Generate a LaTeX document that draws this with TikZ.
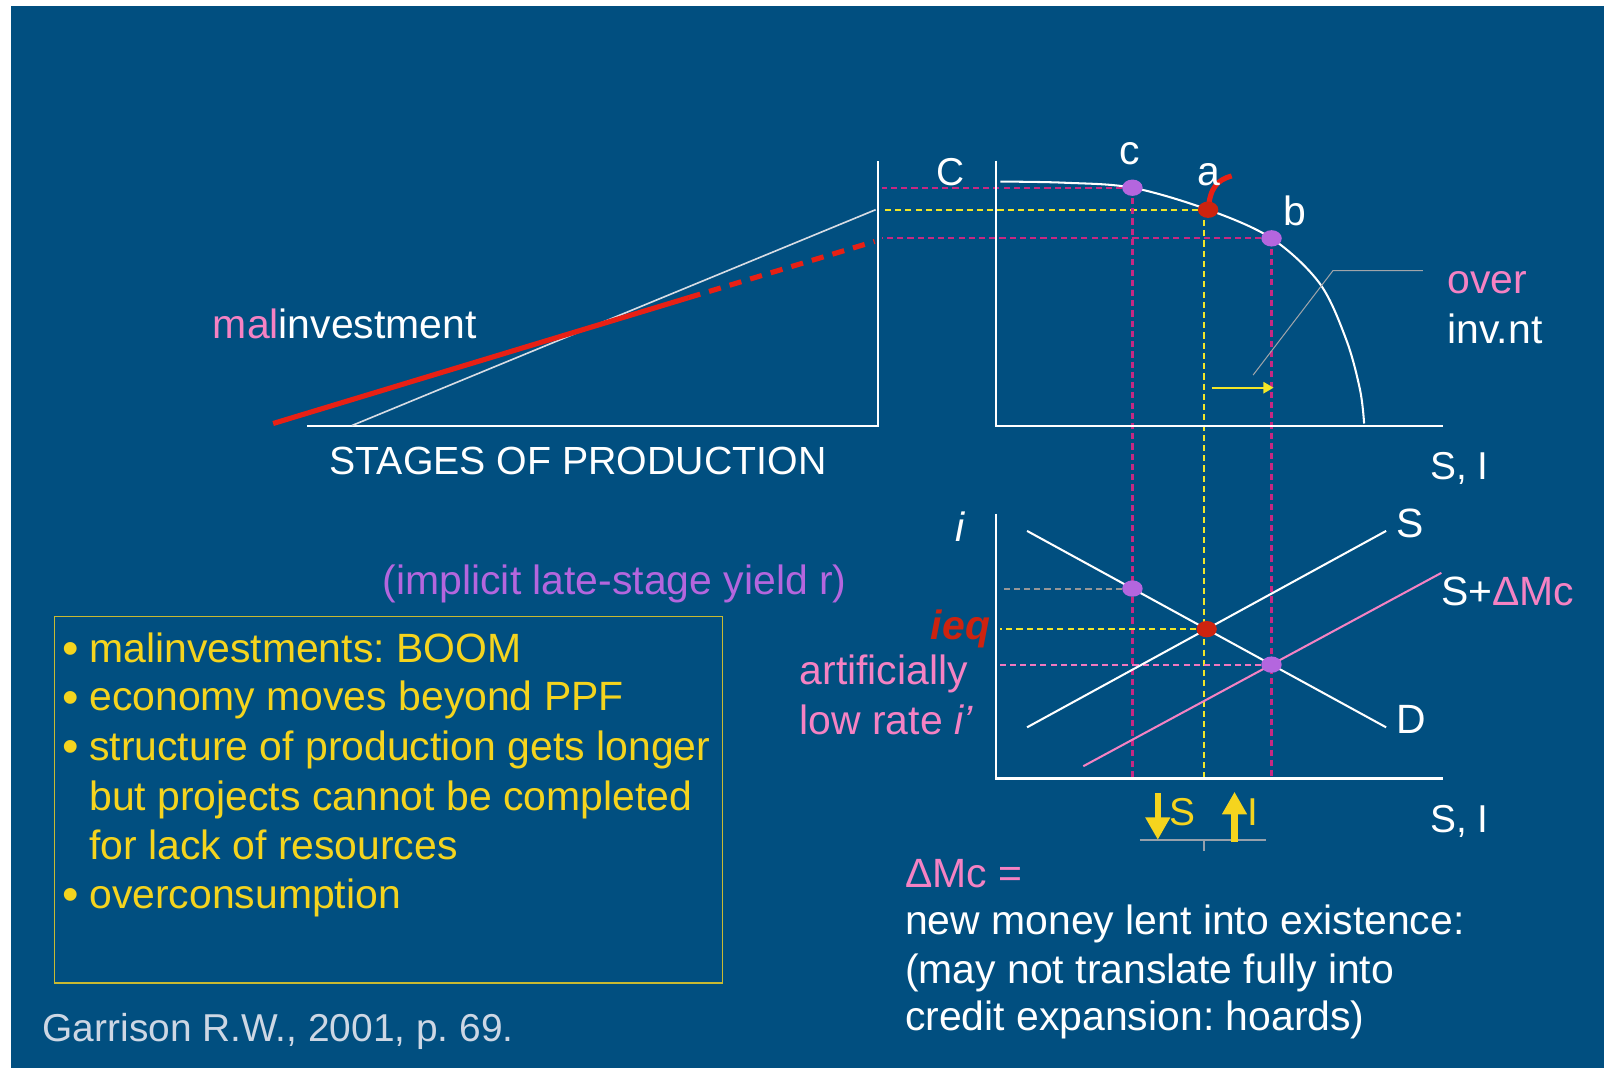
\documentclass[tikz,border=0pt]{standalone}
\usepackage{fontspec}
\setmainfont{Liberation Sans}
\usetikzlibrary{arrows.meta,shapes.geometric}
\frenchspacing
\definecolor{bg}{RGB}{1,79,128}
\definecolor{pinkt}{RGB}{245,130,195}
\definecolor{purp}{RGB}{180,102,222}
\definecolor{magd}{RGB}{200,40,130}
\definecolor{yeld}{RGB}{242,230,40}
\definecolor{yelt}{RGB}{245,212,30}
\definecolor{redl}{RGB}{232,32,20}
\definecolor{redd}{RGB}{205,35,15}
\definecolor{greyd}{RGB}{150,150,150}
\definecolor{pinkd}{RGB}{240,120,190}
\definecolor{boxc}{RGB}{200,185,50}
\definecolor{citec}{RGB}{205,215,228}
\definecolor{hypc}{RGB}{215,220,228}
\definecolor{callc}{RGB}{160,165,170}
\definecolor{baseln}{RGB}{150,160,172}
\begin{document}
\begin{tikzpicture}[x=1pt,y=-1pt,
  tf/.style={inner sep=0pt, text=white, font=\fontsize{40}{48}\selectfont},
  ts/.style={inner sep=0pt, text=white, font=\fontsize{38}{46}\selectfont},
  bul/.style={inner sep=0pt, text=yelt, font=\fontsize{46}{48}\selectfont, anchor=base},
  axisln/.style={draw=white, line width=2pt},
  curveln/.style={draw=white, line width=2pt},
  dmag/.style={draw=magd, line width=2.2pt, dash pattern=on 6pt off 4pt},
  dyel/.style={draw=yeld, line width=2.2pt, dash pattern=on 6pt off 4pt},
  dgry/.style={draw=greyd, line width=2pt, dash pattern=on 6pt off 4pt},
  dpnk/.style={draw=pinkd, line width=2pt, dash pattern=on 6pt off 4pt},
  dotp/.style={ellipse, fill=purp, minimum width=20pt, minimum height=16pt, inner sep=0pt},
  dotr/.style={ellipse, fill=redd, minimum width=20pt, minimum height=16pt, inner sep=0pt},
  bigarrow/.style={draw=yelt, line width=6pt, -{Triangle[length=22pt,width=23pt]}}
]
\useasboundingbox (0,0) rectangle (1568,1044);
\fill[white] (0,0) rectangle (1568,1044);
\fill[bg] (11,6) rectangle (1568,1044);

% ---------- left graph: stages of production
\coordinate (L0) at (300,416);
\coordinate (L1) at (858,416);
\coordinate (Ltop) at (858,157);
\draw[axisln] (L0) -- (L1) -- (Ltop);
\coordinate (h0) at (344,416);
\coordinate (h1) at (856,205);
\draw[draw=hypc, line width=1.6pt] (h0) -- (h1);
\coordinate (r0) at (267,414);
\coordinate (r1) at (673,291);
\coordinate (r2) at (855,236);
\draw[draw=redl, line width=5pt] (r0) -- (r1);
\draw[draw=redl, line width=5pt, dash pattern=on 12pt off 9pt] (r1) -- (r2);
\node[tf, anchor=base west] (mal) at (208,331) {\textcolor{pinkt}{mal}investment};
\node[inner sep=0pt, text=white, font=\fontsize{38.4}{46}\selectfont, anchor=base west] (stages) at (322,464) {STAGES OF PRODUCTION};
\node[ts, anchor=base] (Clab) at (929,181) {C};

% ---------- PPF graph
\coordinate (O2) at (974,416);
\coordinate (O2top) at (974,157);
\coordinate (O2right) at (1411,416);
\coordinate (cC) at (1107,183.5);
\coordinate (aC) at (1181,205);
\coordinate (aV) at (1177,205);
\coordinate (bC) at (1243,233);
\coordinate (Lx) at (862,0);
\coordinate (Bx) at (0,761);

% dashed guide lines
\draw[dmag] (cC) -- (cC -| Lx);
\draw[dmag] (bC) -- (bC -| Lx);
\draw[dyel] (aC) -- (aC -| Lx);
\draw[dmag] (cC) -- (cC |- Bx);
\draw[dmag] (bC) -- (bC |- Bx);
\draw[dyel] (aV) -- (aV |- Bx);

\draw[axisln] (O2top) -- (O2) -- (O2right);
\draw[curveln] plot[smooth, tension=0.55] coordinates {(978,177.5) (1040,178.6) (cC) (aC) (bC) (1290,277) (1316,332) (1329.5,381) (1333.5,414)};
\draw[draw=redl, line width=5pt] (aC) .. controls (1183,183) and (1190,176) .. (1204,172);
\node[dotp] (c) at (cC) {};
\node[dotr] (a) at (aC) {};
\node[dotp] (b) at (bC) {};
\node[tf, anchor=base] (clab) at (1104,160.5) {c};
\node[tf, anchor=base] (alab) at (1182,181) {a};
\node[tf, anchor=base] (blab) at (1265.5,220) {b};

\coordinate (ya0) at (1184.5,379);
\coordinate (ya1) at (1245,379);
\draw[draw=yeld, line width=2pt, -{Triangle[length=10pt,width=11pt]}] (ya0) -- (ya1);
\coordinate (cl0) at (1225,366.6);
\coordinate (cl1) at (1303,264.6);
\coordinate (cl2) at (1391,264.6);
\draw[draw=callc, line width=1pt] (cl0) -- (cl1) -- (cl2);
\node[tf, anchor=base west, text=pinkt] (over) at (1415,286.7) {over};
\node[tf, anchor=base west] (invnt) at (1415,335.6) {inv.nt};
\node[ts, anchor=base west] (SI1) at (1398,469) {S, I};

% ---------- loanable funds graph
\coordinate (O3) at (974,761);
\coordinate (O3top) at (974,502);
\coordinate (O3right) at (1411,761);
\coordinate (D0) at (1004,519);
\coordinate (D1) at (1355,711);
\coordinate (S0) at (1004,711);
\coordinate (S1) at (1355,519);
\coordinate (M0) at (1059,749);
\coordinate (M1) at (1409,560);
\coordinate (Vx) at (978,0);
\coordinate (eq) at (intersection of D0--D1 and S0--S1);
\coordinate (p2) at (intersection of D0--D1 and M0--M1);
\coordinate (cB) at (cC |- Bx);
\coordinate (p1) at (intersection of D0--D1 and cC--cB);

\draw[dgry] (p1) -- (p1 -| Vx);
\draw[dyel] (eq) -- (eq -| Vx);
\draw[dpnk] (p2) -- (p2 -| Vx);
\draw[axisln] (O3top) -- (O3) -- (O3right);
\draw[curveln] (D0) -- (D1);
\draw[curveln] (S0) -- (S1);
\draw[draw=pinkt, line width=2pt] (M0) -- (M1);
\node[dotp] (lp1) at (p1) {};
\node[dotr] (leq) at (eq) {};
\node[dotp] (lp2) at (p2) {};

\node[tf, anchor=base] (ilab) at (939,529.5) {\textit{i}};
\node[tf, anchor=base] (Slab) at (1378,525.6) {S};
\node[tf, anchor=base west] (SMlab) at (1408.5,592) {S+\textcolor{pinkt}{ΔMc}};
\node[tf, anchor=base] (Dlab) at (1380,717) {D};
\node[tf, anchor=base east, text=redd] (ieq) at (968,625.6) {\textbf{\textit{ieq}}};
\node[tf, anchor=base west, text=pinkt] (art1) at (781.5,668.7) {artificially};
\node[tf, anchor=base west, text=pinkt] (art2) at (781.5,718) {low rate \textit{i’}};
\node[tf, anchor=base west, text=purp] (impl) at (374,581) {(implicit late-stage yield r)};
\node[ts, anchor=base west] (SI2) at (1398,814) {S, I};

% ---------- S and I arrows
\coordinate (gl0) at (1114,821.5);
\coordinate (gl1) at (1238,821.5);
\coordinate (gt0) at (1176.5,821.5);
\coordinate (gt1) at (1176.5,831.6);
\draw[draw=baseln, line width=2pt] (gl0) -- (gl1);
\draw[draw=baseln, line width=2pt] (gt0) -- (gt1);
\coordinate (sd0) at (1131.8,775.5);
\coordinate (sd1) at (1131.8,821);
\coordinate (iu0) at (1206.8,823);
\coordinate (iu1) at (1206.8,774);
\draw[bigarrow] (sd0) -- (sd1);
\draw[bigarrow] (iu0) -- (iu1);
\node[ts, anchor=base west, text=yelt] (Sdown) at (1143,806.5) {S};
\node[ts, anchor=base west, text=yelt] (Iup) at (1219,806.5) {I};

% ---------- Delta Mc explanation
\node[tf, anchor=base west, text=pinkt] (dmc) at (884.6,867.8) {ΔMc =};
\node[tf, anchor=base west] (ex1) at (884.6,914) {new money lent into existence:};
\node[tf, anchor=base west] (ex2) at (884.6,961) {(may not translate fully into};
\node[tf, anchor=base west] (ex3) at (884.6,1007) {credit expansion: hoards)};

% ---------- bullet box
\draw[draw=boxc, line width=1.2pt] (53.5,603) rectangle (706,961);
\node[bul] (b1) at (69,650) {•};
\node[tf, anchor=base west, text=yelt] (l1) at (87.1,648) {malinvestments: BOOM};
\node[bul] (b2) at (69,697) {•};
\node[tf, anchor=base west, text=yelt] (l2) at (87.1,695) {economy moves beyond PPF};
\node[bul] (b3) at (69,745.7) {•};
\node[tf, anchor=base west, text=yelt] (l3) at (87.1,743.7) {structure of production gets longer};
\node[tf, anchor=base west, text=yelt] (l4) at (87.1,792) {but projects cannot be completed};
\node[tf, anchor=base west, text=yelt] (l5) at (87.1,840) {for lack of resources};
\node[bul] (b6) at (69,890) {•};
\node[tf, anchor=base west, text=yelt] (l6) at (87.1,888) {overconsumption};

\node[inner sep=0pt, text=citec, font=\fontsize{38}{46}\selectfont, anchor=base west] (cite) at (41.5,1018) {Garrison R.W., 2001, p. 69.};
\end{tikzpicture}
\end{document}
